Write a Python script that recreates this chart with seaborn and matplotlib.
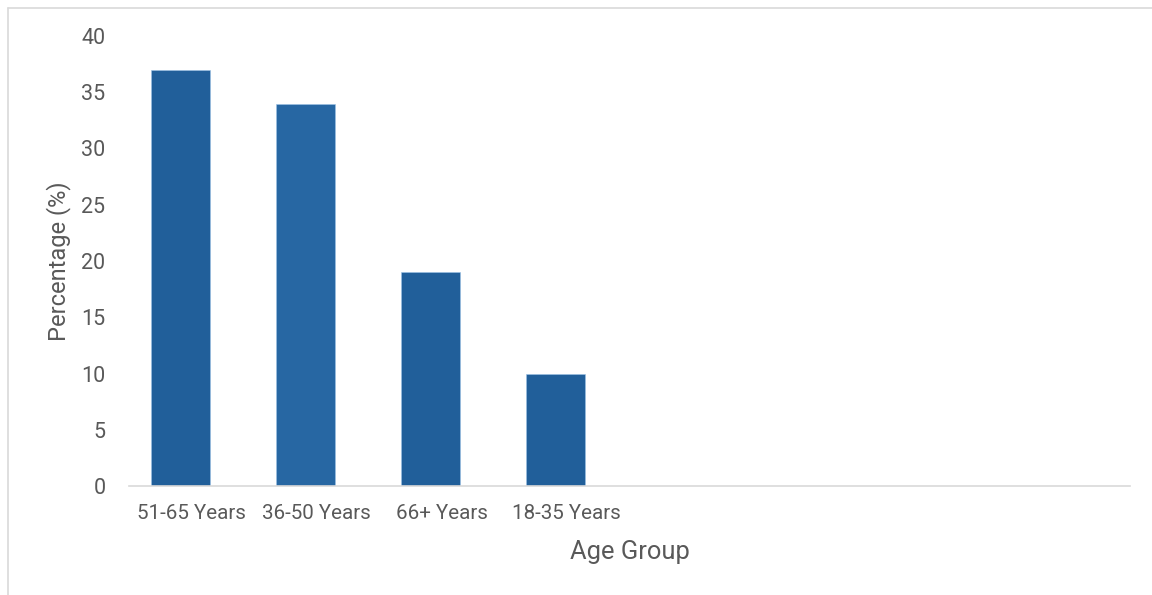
import matplotlib
matplotlib.use("Agg")
import matplotlib.pyplot as plt
import matplotlib.transforms as mtransforms
import seaborn as sns
import pandas as pd
from matplotlib.lines import Line2D

categories = ["51-65 Years", "36-50 Years", "66+ Years", "18-35 Years"]
values = [37, 34, 19, 10]
bar_colors = ["#215F9A", "#2767A3", "#215F9A", "#215F9A"]
y_ticks = [0, 5, 10, 15, 20, 25, 30, 35, 40]

sns.set_theme(style="white")
plt.rcParams["font.family"] = ["Roboto", "DejaVu Sans"]

df = pd.DataFrame({"Age Group": categories, "Percentage": values})

W, H = 1152, 595
fig = plt.figure(figsize=(W / 100, H / 100), dpi=100)
ax = fig.add_axes([129 / W, 109 / H, (1130 - 129) / W, (486 - 36) / H])

sns.barplot(data=df, x="Age Group", y="Percentage", hue="Age Group",
            palette=dict(zip(categories, bar_colors)), legend=False,
            saturation=1, width=0.472, ax=ax, edgecolor="#9DC3E6", linewidth=0.4)

ax.set_xlim(-0.412, 7.596)
ax.set_ylim(0, 40)
ax.set_yticks(y_ticks)
ax.set_yticklabels([str(t) for t in y_ticks])

for s in ["top", "right", "left"]:
    ax.spines[s].set_visible(False)
ax.spines["bottom"].set_color("#D9D9D9")
ax.spines["bottom"].set_linewidth(1.2)

txt = "#595959"
ax.tick_params(axis="y", length=0, pad=17, labelsize=15.5, labelcolor=txt)
ax.tick_params(axis="x", length=0, pad=13, labelsize=14.8, labelcolor=txt)
ax.set_xlabel("Age Group", fontsize=18.4, color=txt, labelpad=12)
ax.set_ylabel("Percentage (%)", fontsize=17, color=txt, labelpad=7)

# category labels sit slightly right of the bars, as in the source chart
shift = mtransforms.ScaledTranslation(11 / 100, 0, fig.dpi_scale_trans)
for lab in ax.get_xticklabels():
    lab.set_transform(lab.get_transform() + shift)

# outer chart border (top and left visible)
fig.add_artist(Line2D([7.5 / W, 7.5 / W], [0, 1 - 7.5 / H], transform=fig.transFigure,
                      color="#D9D9D9", linewidth=1.2))
fig.add_artist(Line2D([7.5 / W, 1], [1 - 7.5 / H, 1 - 7.5 / H], transform=fig.transFigure,
                      color="#D9D9D9", linewidth=1.2))

fig.savefig("out.png", dpi=100, facecolor="white")
